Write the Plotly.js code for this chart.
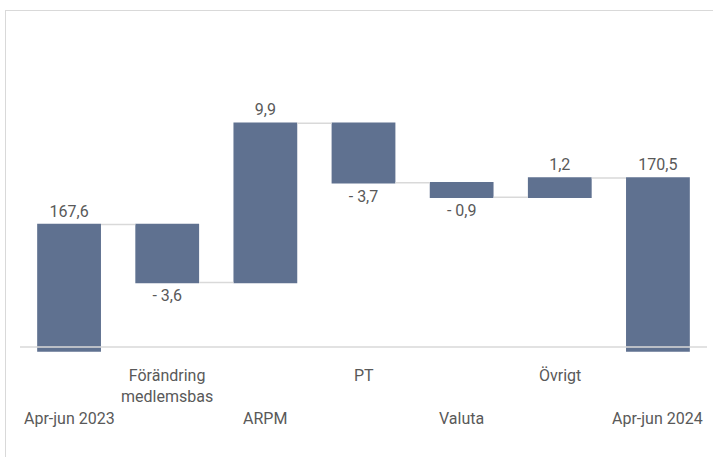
<!DOCTYPE html>
<html>
<head>
<meta charset="utf-8">
<script src="https://cdn.plot.ly/plotly-3.0.1.min.js"></script>
<style>
  html, body { margin: 0; padding: 0; background: #ffffff; overflow: hidden; }
  #wrap { position: relative; width: 713px; height: 457px; }
  #chart { position: absolute; left: 0; top: 0; width: 713px; height: 457px; }
  #frame { position: absolute; left: 5px; top: 10px; width: 740px; height: 480px;
           border: 1px solid #d9d9d9; pointer-events: none; }
</style>
</head>
<body>
<div id="wrap">
  <div id="chart"></div>
  <div id="frame"></div>
</div>
<script>
// ---- data ----
const categories = ["Apr-jun 2023", "Förändring<br>medlemsbas", "ARPM", "PT", "Valuta", "Övrigt", "Apr-jun 2024"];
const measures   = ["absolute", "relative", "relative", "relative", "relative", "relative", "total"];
const values     = [167.6, -3.6, 9.9, -3.7, -0.9, 1.2, 170.5];
const labels     = ["167,6", "- 3,6", "9,9", "- 3,7", "- 0,9", "1,2", "170,5"];
const labelRow   = [1, 0, 1, 0, 1, 0, 1]; // 0 = upper row, 1 = lower row

const barBase = 159.75;   // where the bars start
const axisValue = 160;    // where the axis line is drawn

const BAR = "#5f7190";
const TXT = "#595959";
const FONT = "Roboto, 'Open Sans', sans-serif";

// waterfall values relative to base
const wfValues = values.map((v, i) => measures[i] === "absolute" ? v - barBase : (measures[i] === "total" ? 0 : v));

const trace = {
  type: "waterfall",
  x: categories.map((c, i) => i),
  y: wfValues,
  measure: measures,
  base: barBase,
  text: labels,
  texttemplate: "%{text}",
  textposition: "outside",
  cliponaxis: false,
  textfont: { family: FONT, size: 16, color: TXT },
  increasing: { marker: { color: BAR } },
  decreasing: { marker: { color: BAR } },
  totals: { marker: { color: BAR } },
  connector: { mode: "between", line: { color: "#d9d9d9", width: 1.5 } },
  hoverinfo: "skip"
};

const annotations = categories.map((c, i) => ({
  x: i, xref: "x",
  y: 0, yref: "paper",
  yanchor: "top", xanchor: "center",
  yshift: labelRow[i] === 0 ? -4 : -47,
  text: c,
  showarrow: false,
  font: { family: FONT, size: 16, color: TXT }
}));

const layout = {
  width: 713, height: 457,
  margin: { l: 20, r: 6, t: 30, b: 97 },
  paper_bgcolor: "rgba(0,0,0,0)",
  plot_bgcolor: "rgba(0,0,0,0)",
  showlegend: false,
  waterfallgap: 0.35,
  xaxis: {
    range: [-0.5, categories.length - 0.5],
    showticklabels: false, showgrid: false, zeroline: false, showline: false, ticks: ""
  },
  yaxis: {
    range: [159.19, 179.69],
    showticklabels: false, showgrid: false, zeroline: false, showline: false, ticks: ""
  },
  shapes: [{
    type: "line", layer: "above",
    xref: "paper", x0: 0, x1: 1,
    yref: "y", y0: axisValue, y1: axisValue,
    line: { color: "#d9d9d9", width: 1.5 }
  }],
  annotations: annotations
};

Plotly.newPlot("chart", [trace], layout, { displayModeBar: false, staticPlot: true });
</script>
</body>
</html>
